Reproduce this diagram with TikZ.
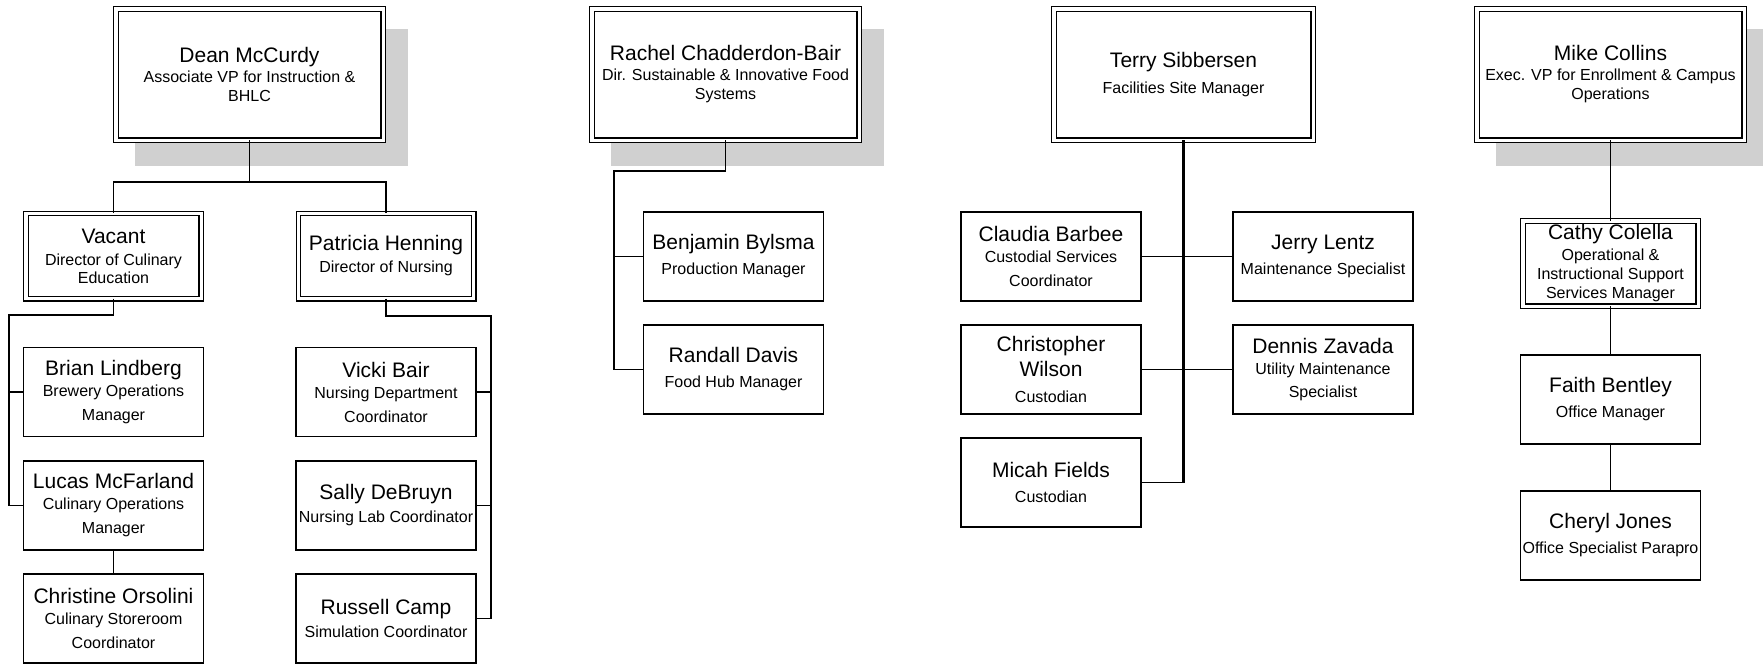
\documentclass[tikz,border=0pt]{standalone}
\usepackage{fontspec}
\setmainfont{Liberation Sans}
\usetikzlibrary{backgrounds}
\definecolor{shadowgray}{RGB}{208,208,208}
\newcommand{\nm}[1]{{\fontsize{21}{21}\selectfont #1}}
\begin{document}
\begin{tikzpicture}[x=1pt,y=-1pt,
    box/.style={draw, fill=white, line width=1.5pt, minimum width=180pt, minimum height=89pt,
      inner sep=0pt, outer sep=0pt, align=center, font=\fontsize{16}{21}\selectfont},
    dbox/.style={box, double, line width=1.3pt, double distance=3.2pt,
      minimum width=175.2pt, minimum height=85.2pt},
    head/.style={dbox, minimum width=267.2pt, minimum height=131.2pt,
      font=\fontsize{16}{19.5}\selectfont},
    link/.style={line width=1.5pt}]
  \useasboundingbox (0,0) rectangle (1763,665);

  % instruction and nursing
  \node[head] (dean) at (249.5,74.5) {\nm{Dean McCurdy}\\Associate VP for Instruction \&\\BHLC};
  \node[dbox] (vacant) at (113.5,256) {\nm{Vacant}\\[1pt]Director of Culinary\\[-3pt]Education};
  \node[dbox] (patricia) at (386,256) {\nm{Patricia Henning}\\[1pt]Director of Nursing};
  \node[box] (brian) at (113.5,392) {\nm{Brian Lindberg}\\Brewery Operations\\[3pt]Manager};
  \node[box] (lucas) at (113.5,505.5) {\nm{Lucas McFarland}\\Culinary Operations\\[3pt]Manager};
  \node[box] (christine) at (113.5,618.5) {\nm{Christine Orsolini}\\Culinary Storeroom\\[3pt]Coordinator};
  \node[box] (vicki) at (386,392) {\nm{Vicki Bair}\\Nursing Department\\[3pt]Coordinator};
  \node[box] (sally) at (386,505.5) {\nm{Sally DeBruyn}\\[2pt]Nursing Lab Coordinator};
  \node[box] (russell) at (386,618.5) {\nm{Russell Camp}\\[2pt]Simulation Coordinator};

  % food systems
  \node[head] (rachel) at (725.5,74.5) {\nm{Rachel Chadderdon-Bair}\\Dir. Sustainable \& Innovative Food\\Systems};
  \node[box] (benjamin) at (733.5,256.5) {\nm{Benjamin Bylsma}\\[4pt]Production Manager};
  \node[box] (randall) at (733.5,369.5) {\nm{Randall Davis}\\[4pt]Food Hub Manager};

  % facilities
  \node[head, minimum width=259.2pt] (terry) at (1183.5,74.5) {\nm{Terry Sibbersen}\\[6.5pt]Facilities Site Manager};
  \node[box] (claudia) at (1051,256.5) {\nm{Claudia Barbee}\\Custodial Services\\[3pt]Coordinator};
  \node[box] (jerry) at (1323,256.5) {\nm{Jerry Lentz}\\[4pt]Maintenance Specialist};
  \node[box] (christopher) at (1051,369.5) {\nm{Christopher}\\[4pt]\nm{Wilson}\\[5pt]Custodian};
  \node[box] (dennis) at (1323,369.5) {\nm{Dennis Zavada}\\Utility Maintenance\\[2pt]Specialist};
  \node[box] (micah) at (1051,482.5) {\nm{Micah Fields}\\[4pt]Custodian};

  % enrollment and campus operations
  \node[head] (mike) at (1610.5,74.5) {\nm{Mike Collins}\\Exec. VP for Enrollment \& Campus\\Operations};
  \node[dbox] (cathy) at (1610.5,263.5) {\nm{Cathy Colella}\\Operational \&\\[-2pt]Instructional Support\\[-2pt]Services Manager};
  \node[box] (faith) at (1610.5,399.5) {\nm{Faith Bentley}\\[4pt]Office Manager};
  \node[box] (cheryl) at (1610.5,535.5) {\nm{Cheryl Jones}\\[4pt]Office Specialist Parapro};

  \begin{scope}[on background layer]
    \foreach \n in {dean,rachel,mike}
      \fill[shadowgray] ([shift={(19,20)}]\n.north west) rectangle ([shift={(25,26)}]\n.south east);
  \end{scope}

  \coordinate (deanbus) at (249.5,182);
  \draw[link] (dean.south) -- (deanbus) -| (vacant.north);
  \draw[link] (deanbus) -| (patricia.north);
  \coordinate (culbus) at (9,315);
  \draw[link] (vacant.south) |- (culbus) |- (lucas.west);
  \draw[link] (culbus) |- (brian.west);
  \draw[link] (lucas) -- (christine);
  \coordinate (nurbus) at (491,316);
  \draw[link] (patricia.south) |- (nurbus) |- (russell.east);
  \foreach \n in {vicki,sally}
    \draw[link] (nurbus) |- (\n.east);

  \coordinate (foodbus) at (614,171);
  \draw[link] (rachel.south) |- (foodbus) |- (randall.west);
  \draw[link] (foodbus) |- (benjamin.west);

  \coordinate (sitebus) at (1183.5,482.5);
  \draw[line width=2.6pt] (terry.south) -- (sitebus);
  \draw[link] (sitebus) -- (micah.east);
  \draw[link] (claudia.east) -- (jerry.west);
  \draw[link] (christopher) -- (dennis);

  \foreach \a/\b in {mike/cathy,cathy/faith,faith/cheryl}
    \draw[link] (\a) -- (\b);
\end{tikzpicture}
\end{document}
